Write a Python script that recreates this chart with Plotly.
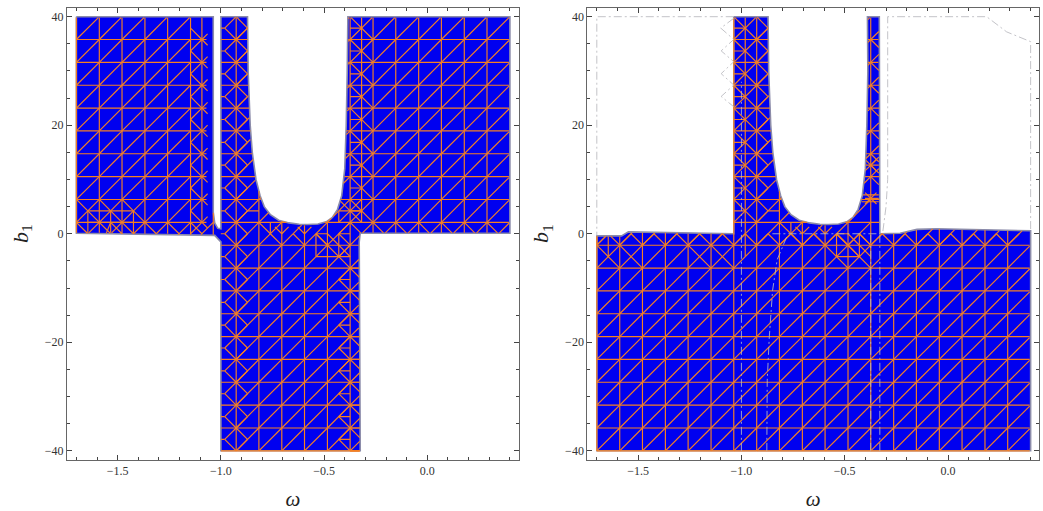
import numpy as np
import plotly.graph_objects as go

GRID_X = [-1.7, -1.589, -1.479, -1.368, -1.258, -1.147, -1.037, -0.926, -0.816, -0.705,
          -0.595, -0.484, -0.374, -0.263, -0.153, -0.042, 0.068, 0.179, 0.289, 0.4]
GRID_Y = [-40, -35.79, -31.58, -27.37, -23.16, -18.95, -14.74, -10.53, -6.32, -2.11,
          2.11, 6.32, 10.53, 14.74, 18.95, 23.16, 27.37, 31.58, 35.79, 40]
X_TICKS = [-1.5, -1.0, -0.5, 0.0]
X_LABELS = ["\u22121.5", "\u22121.0", "\u22120.5", "0.0"]
Y_TICKS = [-40, -20, 0, 20, 40]
Y_LABELS = ["\u221240", "\u221220", "0", "20", "40"]

# U-shaped notch, shared by both panels
U_X = [-0.871, -0.868, -0.858, -0.848, -0.83, -0.81, -0.79, -0.76, -0.72, -0.67, -0.62, -0.58,
       -0.53, -0.49, -0.46, -0.435, -0.415, -0.40, -0.393, -0.388, -0.385]
U_Y = [40, 30, 20, 15, 10, 7, 5, 3.5, 2.5, 2, 1.75, 1.7, 1.8, 2.2, 3, 4.5, 7, 12, 20, 30, 40]

LEFT_X = [-1.7, -1.037, -1.037, -1.03, -1.015, -1.0, -1.0] + U_X + [0.4, 0.4, -0.325, -0.33, -0.325, -1.0, -1.0, -1.03, -1.7]
LEFT_Y = [40, 40, 4, 2, 1, 0.9, 40] + U_Y + [40, 0.1, 0.1, -1.5, -40, -40, -1.5, -0.3, 0.1]

R_NOTCH_X = [-0.39, -0.3325, -0.332, -0.33, -0.232, -0.15, -0.055, 0.139, 0.4, 0.4, -1.7, -1.7, -1.58, -1.547, -1.3, -1.037]
R_NOTCH_Y = [40, 40, 5, 0, 0.1, 0.8, 0.92, 0.8, 0.55, -40, -40, -0.4, -0.4, 0.35, 0.2, 0]
RIGHT_X = [-1.037, -0.871] + U_X[1:-1] + R_NOTCH_X + [-1.037]
RIGHT_Y = [40, 40] + U_Y[1:-1] + R_NOTCH_Y + [40]

# grey contour pieces of the right panel
G_OUT_X = [-1.037, -1.7, -1.7]
G_OUT_Y = [40, 40, -0.4]
G_ZIG_X = [-1.037, -1.1, -1.037, -1.098, -1.037, -1.098, -1.037, -1.098, -1.037]
G_ZIG_Y = [39.7, 37.9, 35.8, 33.7, 31.7, 29.5, 27.4, 25.3, 23.4]
G_BOX_X = [-0.315, -0.30, -0.292, -0.292, 0.187, 0.284, 0.4, 0.4]
G_BOX_Y = [0.5, 5, 10, 40, 40, 37.2, 35.4, 0.55]
G_A_X = [-1.0, -1.0]
G_A_Y = [-40, 28]
G_B_X = [-0.877, -0.875, -0.865, -0.849, -0.827, -0.78]
G_B_Y = [-40, -27, -19, -10.4, -4.8, -0.5]
G_C_X = [-0.374, -0.374]
G_C_Y = [-40, 0]
G_D_X = [-0.33, -0.33]
G_D_Y = [-40, 0]
G_E_X = [-0.85, -0.33]
G_E_Y = [0, 0]

BLUE = "#0000f0"
ORANGE = "#f58022"
EDGE = "rgb(140,140,170)"
GREY = "rgba(185,185,190,0.85)"


def fx(i):
    return float(np.interp(i, range(20), GRID_X))


def fy(j):
    return float(np.interp(j, range(20), GRID_Y))


def inside(px, py, xs, ys):
    xs = np.asarray(xs); ys = np.asarray(ys)
    res = np.zeros(len(px), bool)
    for a in range(len(xs)):
        b = (a + 1) % len(xs)
        cond = (ys[a] > py) != (ys[b] > py)
        with np.errstate(divide="ignore", invalid="ignore"):
            xc = xs[a] + (py - ys[a]) * (xs[b] - xs[a]) / (ys[b] - ys[a])
        res ^= cond & (px < xc)
    return res


def clip(segs, xs, ys):
    ox, oy = [], []
    for (i0, j0, i1, j1) in segs:
        t = np.linspace(0, 1, 25)
        px = fx(i0) + t * (fx(i1) - fx(i0))
        py = fy(j0) + t * (fy(j1) - fy(j0))
        m = inside(px, py, xs, ys)
        k = 0
        while k < len(t):
            if m[k]:
                e = k
                while e + 1 < len(t) and m[e + 1]:
                    e += 1
                if e > k:
                    ox += [px[k], px[e], None]
                    oy += [py[k], py[e], None]
                k = e + 1
            else:
                k += 1
    return ox, oy


def base(skip_diag=(), short_h=()):
    s = []
    for j in range(20):
        for i in range(19):
            s.append((i, j, 5.7 if (i, j) in short_h else i + 1, j))
    for i in range(20):
        for j in range(19):
            s.append((i, j, i, j + 1))
    for i in range(19):
        for j in range(19):
            if (i, j) not in skip_diag:
                s.append((i, j, i + 1, j + 1))
    return s


def cross(i, j):
    return [(i, j + 1, i + 1, j)]


def diamond(i, j):
    # diamond centred on (i, j+.5), half width .5
    return [(i - .5, j + .5, i, j), (i, j, i + .5, j + .5), (i + .5, j + .5, i, j + 1), (i, j + 1, i - .5, j + .5)]


def small_box(i0, i1, j0, j1):
    return [(i0, j0, i1, j0), (i0, j1, i1, j1), (i0, j0, i0, j1), (i1, j0, i1, j1)]


def valley():
    # details below the bottom of the U, the same in both panels
    s = []
    for i in [9, 10, 11, 12]:
        s.append((i, 9, i - .5, 9.5))
    for i in [9, 10]:
        s += [(i, 9.5, i + .3, 9.8), (i, 9.5, i - .3, 9.8)]
    s += [(8, 10, 8.5, 9.5), (8.5, 9.5, 8.5, 10), (7.5, 10.5, 8, 10.5)]
    s += [(10.5, 9.5, 11.5, 8.5), (11, 9.5, 12, 8.5), (10.5, 9.5, 10.5, 8.5), (10.5, 9.5, 11, 9.5),
          (10.5, 8.5, 11.5, 8.5), (11.5, 9.5, 11.5, 8.5)]
    return s


# ---------- left panel mesh ----------
L = base(skip_diag={(5, j) for j in range(10, 19)} | {(6, j) for j in range(19)},
         short_h={(5, j) for j in range(10, 20)})
for i in range(19):
    if i <= 5 or i >= 12:
        L.append((i, 10, i + .5, 9.5))
for j in range(10, 19):
    L += [(5, j + .5, 5.5, j), (5.5, j, 5, j - .5), (5.5, j, 5.75, j + .25), (5.5, j, 5.75, j - .25)]
    L.append((5.5, j, 5.5, j + 1))
    L += cross(12, j)
    L += [(12.5, j, 12.5, j + 1), (12, j + .5, 12.5, j + .5)]
for j in range(19):
    L += diamond(7, j)
    L.append((6.33, j + .5, 6.5, j + .5))
for j in range(9):
    L += [(12, j, 11.5, j + .5), (11.5, j + .5, 12, j + 1), (11.5, j + .5, 12, j + .5),
          (12, j, 12.42, j - .42), (12, j, 12.42, j)]
for i in range(3):
    L += cross(i, 10)
L += small_box(.5, 2.5, 10, 10.5) + [(.5, 9.5, .5, 10), (1.5, 9.5, 1.5, 10.5), (2.5, 9.5, 2.5, 10)]
L += [(1.5, 10, 2, 9.5), (1.5, 10, 1.3, 9.5)]
L += valley()
L += [(11.5, 10.5, 12.5, 10.5), (11.5, 11, 12.5, 10), (11.5, 10, 12.5, 11), (11.5, 10, 11.5, 10.5),
      (12, 10, 11.5, 9.5), (12, 9.5, 11.5, 9.5)]

# ---------- right panel mesh ----------
R = base(skip_diag={(12, j) for j in range(10, 19)})
for i in range(19):
    R.append((i, 9, i + .5, 9.5))
    R.append((i, 9, i - .5, 9.5))
for j in range(10, 19):
    R += cross(6, j)
    R.append((6.5, j, 6.5, j + 1))
    R.append((6, j + .5, 6.5, j + .5))
    R += [(7, j, 7.5, j + .5), (7.5, j + .5, 7, j + 1)]
    if j >= 12:
        R += [(12, j, 12.35, j + .35), (12, j, 12.35, j - .35)]
for i in [0, 1, 4, 5, 10, 11]:
    R += cross(i, 8)
R += [(.5, 8.5, .5, 9.5), (6.5, 8.5, 6.5, 10)]
R += valley()
R += [(11.6, 11.2, 12.35, 11.2), (11.6, 10.9, 12.35, 10.9), (11.75, 11.05, 12.35, 11.05),
      (11.75, 10.8, 12.25, 11.3), (11.75, 11.3, 12.25, 10.8),
      (12, 12.5, 12.35, 12.85), (12, 12.5, 12.35, 12.15), (11.75, 12.5, 12.35, 12.5),
      (11.75, 12.25, 12.25, 12.75), (11.75, 12.75, 12.25, 12.25)]

fig = go.Figure()


def panel(xa, ya, xs, ys, segs):
    fig.add_trace(go.Scatter(x=list(xs) + [xs[0]], y=list(ys) + [ys[0]], mode="lines", fill="toself",
                             fillcolor=BLUE, line=dict(color=EDGE, width=1.6), xaxis=xa, yaxis=ya,
                             hoverinfo="skip", showlegend=False))
    mx, my = clip(segs, xs, ys)
    fig.add_trace(go.Scatter(x=mx, y=my, mode="lines", line=dict(color=ORANGE, width=1.15),
                             xaxis=xa, yaxis=ya, hoverinfo="skip", showlegend=False))


panel("x", "y", LEFT_X, LEFT_Y, L)
panel("x2", "y2", RIGHT_X, RIGHT_Y, R)

for gx, gy in [(G_OUT_X, G_OUT_Y), (G_ZIG_X, G_ZIG_Y), (G_BOX_X, G_BOX_Y), (G_A_X, G_A_Y),
               (G_B_X, G_B_Y), (G_C_X, G_C_Y), (G_D_X, G_D_Y), (G_E_X, G_E_Y)]:
    fig.add_trace(go.Scatter(x=gx, y=gy, mode="lines", xaxis="x2", yaxis="y2", hoverinfo="skip",
                             showlegend=False, line=dict(color=GREY, width=1, dash="8px,3px,2px,3px")))

W, H = 1043, 511
tickfont = dict(family="Liberation Serif", size=12, color="#333333")
xcommon = dict(tickmode="array", tickvals=X_TICKS, ticktext=X_LABELS, ticks="inside", ticklen=5, tickwidth=1,
               tickcolor="#444", showline=True, linecolor="#666", linewidth=1, mirror="ticks", showgrid=False,
               zeroline=False, tickfont=tickfont,
               minor=dict(ticks="inside", ticklen=3, tick0=0, dtick=0.1, tickcolor="#444", showgrid=False),
               title=dict(text="<i>\u03c9</i>", font=dict(family="Liberation Serif", size=21, color="#222"), standoff=16))
ycommon = dict(tickmode="array", tickvals=Y_TICKS, ticktext=Y_LABELS, ticks="inside", ticklen=5, tickwidth=1,
               tickcolor="#444", showline=True, linecolor="#666", linewidth=1, mirror="ticks", showgrid=False,
               zeroline=False, tickfont=tickfont, range=[-41.6, 41.6],
               minor=dict(ticks="inside", ticklen=3, tick0=0, dtick=5, tickcolor="#444", showgrid=False),
               title=dict(text="<i>b</i><sub>1</sub>", font=dict(family="Liberation Serif", size=22, color="#222"), standoff=10))
ydom = [1 - 459.5 / H, 1 - 8 / H]
fig.update_layout(
    width=W, height=H, margin=dict(l=0, r=0, t=0, b=0), paper_bgcolor="white", plot_bgcolor="white",
    showlegend=False,
    xaxis=dict(domain=[67 / W, 519 / W], range=[-1.7455, 0.444], anchor="y", **xcommon),
    yaxis=dict(domain=ydom, anchor="x", **ycommon),
    xaxis2=dict(domain=[587.3 / W, 1039 / W], range=[-1.746, 0.4405], anchor="y2", **xcommon),
    yaxis2=dict(domain=ydom, anchor="x2", **ycommon),
)
fig.write_html("out.html", config={"displayModeBar": False},
               post_script="document.body.style.margin='0';document.documentElement.style.overflow='hidden';")
